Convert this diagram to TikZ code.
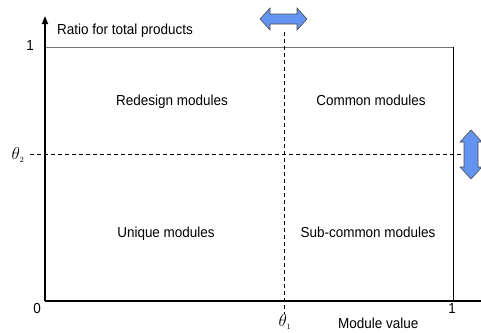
\documentclass[tikz,border=0pt]{standalone}
\usepackage{fontspec}
\setmainfont{Liberation Sans}[FakeStretch=0.93]
\usetikzlibrary{arrows.meta}
\definecolor{arrowblue}{RGB}{98,148,240}
\tikzset{
  lbl/.style={font=\fontsize{14.5}{17}\selectfont, inner sep=0pt},
  greek/.style={font=\fontsize{16}{18}\selectfont, inner sep=0pt},
  axisline/.style={line width=1.6pt},
  guide/.style={dash pattern=on 4pt off 3pt, line width=0.8pt},
  frameline/.style={line width=0.8pt},
  shiftarrow/.style={fill=arrowblue, draw=black!70, line width=0.6pt, line join=miter},
}
\begin{document}
\begin{tikzpicture}[x=1pt,y=-1pt]
\useasboundingbox (0,0) rectangle (481,332);

% corner points of the unit square
\coordinate (O) at (45,301);
\coordinate (Ytop) at (45,16);
\coordinate (Xend) at (482,301);
\coordinate (TL) at (45,47);
\coordinate (TR) at (453,47);
\coordinate (BR) at (453,301);

% threshold guides
\coordinate (H1) at (30,154);
\coordinate (H2) at (466,154);
\coordinate (V1) at (284,32);
\coordinate (V2) at (284,314);

% upper and right borders
\draw[frameline, black!55] (TL) -- (TR);
\draw[frameline] (TR) -- (BR);

% dashed thresholds
\draw[guide] (H1) -- (H2);
\draw[guide] (V1) -- (V2);

% axes
\draw[axisline, -{Triangle[length=8pt,width=6pt]}] (O) -- (Ytop);
\draw[axisline] (O) -- (Xend);

% axis labels and ticks
\node[lbl, anchor=base west] (ylab) at (57,34) {Ratio for total products};
\node[lbl, anchor=base] (yone) at (30,50) {1};
\node[lbl, anchor=base] (zero) at (37,313) {0};
\node[lbl, anchor=base] (xone) at (452,313) {1};
\node[lbl, anchor=base west] (xlab) at (338,328) {Module value};
\node[greek] (th1) at (285,322) {$\theta_{\scriptscriptstyle 1}$};
\node[greek] (th2) at (18,155) {$\theta_{\scriptscriptstyle 2}$};

% quadrant names
\node[lbl, anchor=base] (redesign) at (172,105) {Redesign modules};
\node[lbl, anchor=base] (common) at (371,105) {Common modules};
\node[lbl, anchor=base] (unique) at (166,237) {Unique modules};
\node[lbl, anchor=base] (subcommon) at (368,237) {Sub-common modules};

% movable threshold markers
\draw[shiftarrow] (260,19) -- (270,8) -- (270,14) -- (297,14) -- (297,8) -- (307,19)
  -- (297,30) -- (297,24) -- (270,24) -- (270,30) -- cycle;
\draw[shiftarrow] (471,130) -- (482,142) -- (478,142) -- (478,167) -- (482,167) -- (471,179)
  -- (460,167) -- (464,167) -- (464,142) -- (460,142) -- cycle;
\end{tikzpicture}
\end{document}
